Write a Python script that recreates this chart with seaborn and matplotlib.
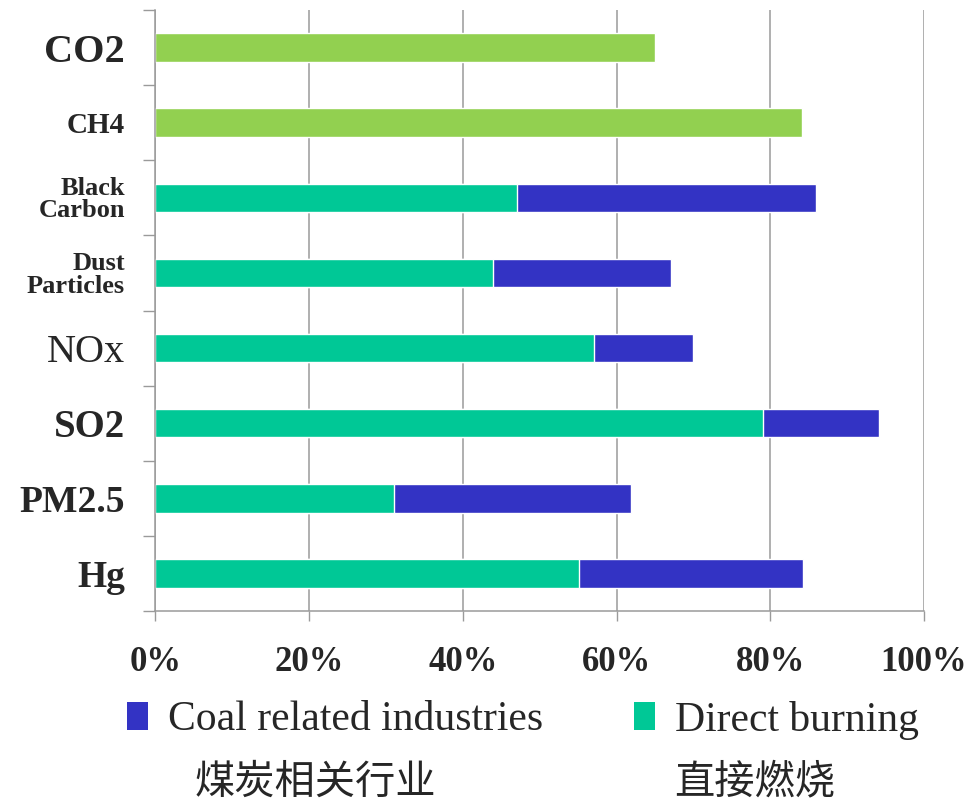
import matplotlib
matplotlib.use("Agg")
import matplotlib.pyplot as plt
from matplotlib.patches import Patch
from matplotlib.ticker import FuncFormatter, FixedLocator
import seaborn as sns
import pandas as pd
import numpy as np

# ---- data (shares of emissions, %) ----
categories = ["CO2", "CH4", "Black\nCarbon", "Dust\nParticles", "NOx", "SO2", "PM2.5", "Hg"]
ghg_names = ["CO2", "CH4"]
ghg_share = [65.0, 84.1]
pollutant_names = ["Black\nCarbon", "Dust\nParticles", "NOx", "SO2", "PM2.5", "Hg"]
direct_burning = [47.0, 43.9, 57.0, 79.0, 31.0, 55.1]
coal_related = [39.0, 23.2, 13.0, 15.1, 30.9, 29.2]
x_ticks = [0, 20, 40, 60, 80, 100]
legend_labels = ["Coal related industries", "Direct burning"]
legend_labels_zh = ["煤炭相关行业", "直接燃烧"]

# ---- colours ----
GREEN = "#92D050"
TEAL = "#00C896"
BLUE = "#3333C4"
GRID = "#9A9A9A"

sns.set_style("white")
plt.rcParams["font.family"] = ["Liberation Serif", "DejaVu Serif"]

pollutants = pd.DataFrame({
    "category": pollutant_names,
    "direct": direct_burning,
    "coal": coal_related,
})
pollutants["total"] = pollutants["direct"] + pollutants["coal"]
ghg = pd.DataFrame({"category": ghg_names, "share": ghg_share})

fig = plt.figure(figsize=(9.71, 8.01), dpi=100)
ax = fig.add_axes([0.1601, 0.2372, 0.9516 - 0.1601, 0.9875 - 0.2372])

bar_w = 0.38
# greenhouse gases (single segment)
sns.barplot(data=ghg, x="share", y="category", order=categories, orient="h",
            color=GREEN, saturation=1, width=bar_w, ax=ax)
# stacked: full length in blue (coal related on the right), direct burning over it
sns.barplot(data=pollutants, x="total", y="category", order=categories, orient="h",
            color=BLUE, saturation=1, width=bar_w, ax=ax)
sns.barplot(data=pollutants, x="direct", y="category", order=categories, orient="h",
            color=TEAL, saturation=1, width=bar_w, ax=ax)

ax.set_xlim(0, 100)
ax.set_ylim(len(categories) - 0.5, -0.5)
ax.set_xlabel("")
ax.set_ylabel("")

# x axis
ax.xaxis.set_major_locator(FixedLocator(x_ticks))
ax.xaxis.set_major_formatter(FuncFormatter(lambda v, p: f"{v:.0f}%"))
ax.tick_params(axis="x", which="major", direction="out", length=7, width=1,
               color=GRID, pad=18, labelsize=25)
for t in ax.get_xticklabels():
    t.set_fontweight("bold")
ax.xaxis.grid(True, color=GRID, linewidth=1.1)
ax.yaxis.grid(False)
ax.set_axisbelow(True)

# y axis: labels at bar centres, tick marks between categories
ax.yaxis.set_minor_locator(FixedLocator(np.arange(-0.5, len(categories), 1.0)))
ax.tick_params(axis="y", which="major", length=0, pad=22)
ax.tick_params(axis="y", which="minor", direction="out", length=8.5, width=1, color=GRID)
ax.tick_params(left=True, bottom=True, which="both")
ax.tick_params(axis="y", which="major", left=False)

label_size = [29, 21, 19, 19, 29, 28, 27, 27]
label_weight = ["bold", "bold", "bold", "bold", "normal", "bold", "bold", "bold"]
for t, s, w in zip(ax.get_yticklabels(), label_size, label_weight):
    t.set_fontsize(s)
    t.set_fontweight(w)
    t.set_linespacing(0.95)
    t.set_horizontalalignment("right")
    t.set_multialignment("right")

for side in ["top", "right"]:
    ax.spines[side].set_visible(False)
for side in ["left", "bottom"]:
    ax.spines[side].set_color(GRID)
    ax.spines[side].set_linewidth(1.1)

# legend
handles = [Patch(facecolor=BLUE, edgecolor="none"), Patch(facecolor=TEAL, edgecolor="none")]
fig.legend(handles, legend_labels, loc="center left",
           bbox_to_anchor=(127 / 971, 1 - 720 / 801), ncol=2, frameon=False,
           prop={"family": "Liberation Serif", "size": 30},
           handlelength=0.5, handleheight=0.67, handletextpad=0.48,
           columnspacing=2.18, borderpad=0, borderaxespad=0)

# Chinese captions under each legend entry
cjk = ["Noto Sans CJK SC", "DejaVu Sans"]
fig.text(315 / 971, 1 - 782 / 801, legend_labels_zh[0], ha="center", va="center",
         fontsize=29, family=cjk)
fig.text(755 / 971, 1 - 782 / 801, legend_labels_zh[1], ha="center", va="center",
         fontsize=29, family=cjk)

fig.savefig("out.png", dpi=100)
